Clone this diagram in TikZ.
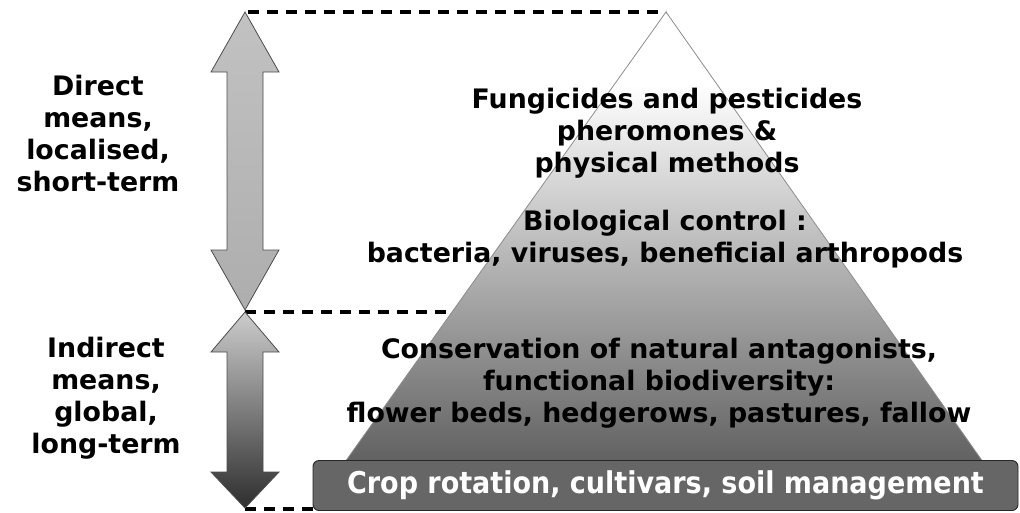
\documentclass[tikz,border=0pt]{standalone}
\usepackage{fontspec}
\setmainfont{DejaVu Sans}
\newfontfamily\condfont{DejaVu Sans Condensed}
\pgfdeclareverticalshading{pyrshade}{100bp}{color(0bp)=(black!62); color(25bp)=(black!62); color(67bp)=(white); color(100bp)=(white)}
\tikzset{
  lbl/.style={font=\fontsize{26.8}{32}\selectfont\bfseries, align=center, inner sep=0pt},
  dashline/.style={draw=black, line width=3.2pt, dash pattern=on 11pt off 8pt},
  arrowshape/.style={draw=black!70, line width=0.8pt, line join=miter},
}
\begin{document}
\begin{tikzpicture}[x=1pt,y=-1pt]
\useasboundingbox (0,0) rectangle (1020,512);
% pyramid
\path[shading=pyrshade, draw=black!45, line width=0.8pt] (666,12) -- (983,462) -- (345,462) -- cycle;
% dashed guides
\coordinate (d1a) at (248,12);
\coordinate (d1b) at (666,12);
\coordinate (d2a) at (245,312);
\coordinate (d2b) at (450,312);
\coordinate (d3a) at (245,509);
\coordinate (d3b) at (313,509);
\draw[dashline] (d1a) -- (d1b);
\draw[dashline] (d2a) -- (d2b);
\draw[dashline] (d3a) -- (d3b);
% top double arrow
\path[arrowshape, top color=black!24, bottom color=black!32]
  (245,12) -- (279,72) -- (263,72) -- (263,250) -- (279,250) -- (245,310)
  -- (211,250) -- (227,250) -- (227,72) -- (211,72) -- cycle;
% bottom double arrow
\path[arrowshape, top color=black!20, bottom color=black!82]
  (245,312) -- (279,352) -- (263,352) -- (263,472) -- (279,472) -- (245,508)
  -- (211,472) -- (227,472) -- (227,352) -- (211,352) -- cycle;
% base bar
\node[draw=black!85, line width=0.9pt, fill=black!60, rounded corners=6pt,
      minimum width=705pt, minimum height=50pt, inner sep=0pt,
      font=\condfont\fontsize{30}{32}\selectfont\bfseries, text=white]
  (bar) at (665.5,485.5) {Crop rotation, cultivars, soil management};
% texts
\node[lbl] (direct) at (98,134) {Direct\\means,\\localised,\\short-term};
\node[lbl] (indirect) at (106,398) {Indirect\\means,\\global,\\long-term};
\node[lbl] (fung) at (667,133) {Fungicides and pesticides\\pheromones \&\\physical methods};
\node[lbl] (bio) at (665,239) {Biological control :\\bacteria, viruses, beneficial arthropods};
\node[lbl] (cons) at (659,383) {Conservation of natural antagonists,\\functional biodiversity:\\flower beds, hedgerows, pastures, fallow};
\end{tikzpicture}
\end{document}
